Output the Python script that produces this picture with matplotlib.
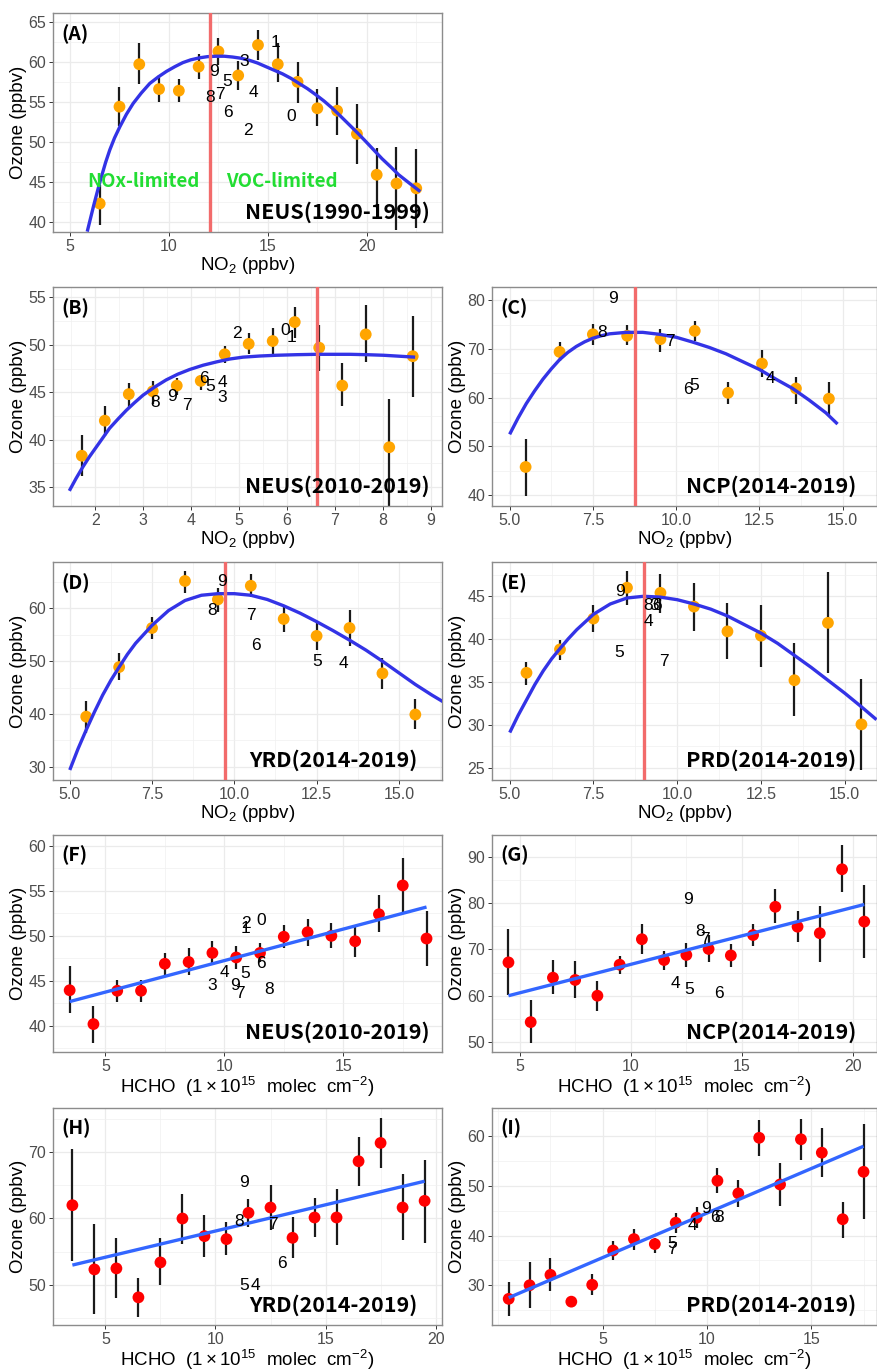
import matplotlib
matplotlib.use("Agg")
import matplotlib.pyplot as plt
from matplotlib.ticker import MultipleLocator, FormatStrFormatter

plt.rcParams['font.family'] = ['Liberation Sans', 'DejaVu Sans']
plt.rcParams['mathtext.fontset'] = 'custom'
plt.rcParams['mathtext.rm'] = 'Liberation Sans'
plt.rcParams['mathtext.it'] = 'Liberation Sans:italic'
plt.rcParams['mathtext.bf'] = 'Liberation Sans:bold'

# ---------------- data ----------------
# (A) NEUS 1990-1999, ozone vs NO2
a_x = [6.5, 7.5, 8.5, 9.5, 10.5, 11.5, 12.5, 13.5, 14.5, 15.5, 16.5, 17.5, 18.5, 19.5, 20.5, 21.5, 22.5]
a_y = [42.3, 54.4, 59.7, 56.6, 56.4, 59.4, 61.3, 58.3, 62.1, 59.7, 57.5, 54.2, 53.9, 51.0, 45.9, 44.8, 44.2]
a_lo = [39.6, 52.0, 57.2, 55.0, 55.0, 57.8, 59.6, 56.5, 60.2, 57.5, 54.9, 52.0, 50.9, 47.3, 41.8, 39.0, 39.2]
a_hi = [44.6, 56.8, 62.3, 58.3, 57.8, 61.0, 63.0, 60.1, 64.0, 62.4, 60.0, 56.6, 56.8, 54.7, 49.3, 49.4, 49.1]
a_fit_x = [5.87, 6.2, 6.51, 6.8, 7.01, 7.25, 7.52, 7.85, 8.19, 8.6, 9.03, 9.45, 9.87, 10.3, 10.7, 11.1,
           11.54, 11.95, 12.38, 12.8, 13.22, 13.64, 14.06, 14.48, 14.9, 15.32, 15.74, 16.16, 16.58,
           17.0, 17.42, 17.84, 18.26, 18.68, 19.09, 19.5, 19.93, 20.35, 20.77, 21.2, 21.61, 22.15, 22.7]
a_fit_y = [38.8, 42.1, 45.0, 47.45, 49.0, 50.5, 51.9, 53.45, 54.8, 56.1, 57.3, 58.1, 58.8, 59.4, 59.9, 60.25,
           60.5, 60.65, 60.7, 60.7, 60.6, 60.45, 60.2, 59.85, 59.4, 58.95, 58.5, 57.95, 57.3,
           56.65, 55.9, 55.1, 54.2, 53.2, 52.2, 51.2, 50.1, 49.0, 47.9, 46.9, 45.9, 44.85, 43.8]
a_yr_x = [16.16, 15.4, 13.99, 13.81, 14.26, 12.92, 13.0, 12.58, 12.08, 12.3]
a_yr_y = [53.2, 62.4, 51.4, 60.0, 56.2, 57.6, 53.7, 55.9, 55.6, 58.8]
a_ridge = 12.07

# (B) NEUS 2010-2019, ozone vs NO2
b_x = [1.72, 2.2, 2.7, 3.2, 3.7, 4.2, 4.7, 5.2, 5.7, 6.16, 6.67, 7.15, 7.64, 8.13, 8.62]
b_y = [38.3, 42.0, 44.8, 45.1, 45.7, 46.2, 49.0, 50.1, 50.4, 52.4, 49.7, 45.7, 51.1, 39.2, 48.8]
b_lo = [36.2, 40.4, 43.3, 43.8, 44.7, 45.2, 48.1, 49.0, 49.0, 50.7, 47.2, 43.5, 48.2, 33.0, 44.5]
b_hi = [40.5, 43.5, 46.0, 46.2, 46.5, 46.8, 49.9, 51.3, 51.8, 54.0, 52.1, 48.1, 54.2, 44.3, 53.0]
b_fit_x = [1.46, 1.6, 1.74, 1.88, 2.02, 2.16, 2.3, 2.48, 2.65, 2.82, 3.0, 3.24, 3.48, 3.72, 3.97,
           4.25, 4.53, 4.8, 5.08, 5.43, 5.78, 6.2, 6.62, 6.96, 7.31, 7.66, 8.01, 8.34, 8.67]
b_fit_y = [34.6, 35.9, 37.1, 38.2, 39.2, 40.2, 41.2, 42.2, 43.1, 43.9, 44.7, 45.55, 46.3, 46.9, 47.4,
           47.85, 48.2, 48.5, 48.7, 48.82, 48.9, 48.96, 49.0, 49.0, 49.0, 48.96, 48.9, 48.8, 48.7]
b_yr_x = [5.96, 6.09, 4.95, 4.65, 4.65, 4.39, 4.27, 3.92, 3.25, 3.6]
b_yr_y = [51.5, 50.8, 51.2, 44.4, 46.0, 45.6, 46.4, 43.6, 43.9, 44.5]
b_ridge = 6.62

# (C) NCP 2014-2019, ozone vs NO2
c_x = [5.48, 6.5, 7.5, 8.53, 9.53, 10.56, 11.56, 12.58, 13.6, 14.59]
c_y = [45.8, 69.4, 73.0, 72.7, 72.0, 73.7, 61.0, 67.0, 61.9, 59.8]
c_lo = [39.8, 67.6, 70.8, 70.8, 69.4, 71.6, 58.7, 64.3, 58.8, 56.4]
c_hi = [51.6, 71.5, 75.2, 74.9, 74.0, 75.8, 63.2, 69.7, 64.3, 63.2]
c_fit_x = [5.0, 5.25, 5.5, 5.75, 6.0, 6.25, 6.5, 6.75, 7.0, 7.25, 7.5, 7.75, 8.0, 8.5, 9.0, 9.5,
           10.0, 10.5, 11.0, 11.5, 12.0, 12.5, 13.0, 13.5, 14.0, 14.5, 14.85]
c_fit_y = [52.5, 55.8, 58.8, 61.4, 63.8, 65.9, 67.8, 69.3, 70.5, 71.45, 72.2, 72.7, 73.1, 73.4, 73.4, 73.0,
           72.4, 71.4, 70.3, 69.0, 67.4, 65.8, 63.8, 61.9, 59.5, 56.9, 54.6]
c_yr_x = [12.84, 10.53, 10.36, 9.81, 7.78, 8.11]
c_yr_y = [63.9, 62.6, 61.6, 71.5, 73.4, 80.3]
c_yr_lab = ['4', '5', '6', '7', '8', '9']
c_ridge = 8.76

# (D) YRD 2014-2019, ozone vs NO2
d_x = [5.5, 6.5, 7.5, 8.5, 9.5, 10.5, 11.5, 12.5, 13.5, 14.5, 15.5]
d_y = [39.5, 48.9, 56.3, 65.2, 61.7, 64.3, 58.0, 54.8, 56.3, 47.7, 39.9]
d_lo = [36.4, 46.5, 54.2, 63.0, 59.4, 62.2, 55.6, 52.2, 52.9, 44.8, 37.1]
d_hi = [42.4, 51.6, 58.4, 67.1, 63.8, 66.6, 60.3, 57.5, 59.8, 50.7, 42.8]
d_fit_x = [5.0, 5.25, 5.5, 5.75, 6.0, 6.25, 6.5, 6.75, 7.0, 7.5, 8.0, 8.5, 9.0, 9.5, 10.0, 10.5, 11.0,
           11.5, 12.0, 12.5, 13.0, 13.5, 14.0, 14.5, 15.0, 15.5, 16.0, 16.35]
d_fit_y = [29.4, 33.4, 37.0, 40.4, 43.6, 46.4, 48.9, 51.3, 53.4, 56.8, 59.6, 61.5, 62.5, 62.8, 62.8, 62.5,
           61.7, 60.5, 59.1, 57.5, 55.8, 54.0, 52.1, 50.0, 47.8, 45.6, 43.6, 42.3]
d_yr_x = [13.31, 12.52, 10.65, 10.49, 9.31, 9.64]
d_yr_y = [49.6, 49.9, 52.9, 58.7, 59.6, 65.2]
d_yr_lab = ['4', '5', '6', '7', '8', '9']
d_ridge = 9.72

# (E) PRD 2014-2019, ozone vs NO2
e_x = [5.5, 6.5, 7.5, 8.5, 9.5, 10.5, 11.5, 12.5, 13.5, 14.5, 15.5]
e_y = [36.07, 38.8, 42.4, 46.0, 45.4, 43.8, 40.9, 40.4, 35.2, 41.9, 30.05]
e_lo = [34.7, 37.6, 40.8, 43.95, 43.0, 41.0, 37.7, 36.8, 31.0, 36.1, 24.7]
e_hi = [37.3, 39.9, 43.95, 47.95, 47.6, 46.6, 44.2, 43.95, 39.5, 47.8, 35.4]
e_fit_x = [5.0, 5.25, 5.5, 5.75, 6.0, 6.25, 6.5, 6.75, 7.0, 7.5, 8.0, 8.5, 9.0, 9.5, 10.0, 10.5, 11.0,
           11.5, 12.0, 12.5, 13.0, 13.5, 14.0, 14.5, 15.0, 15.5, 15.95]
e_fit_y = [29.1, 31.1, 32.9, 34.7, 36.3, 37.7, 38.9, 40.05, 41.1, 42.9, 44.1, 44.8, 45.0, 44.9, 44.6, 44.1,
           43.5, 42.7, 41.7, 40.7, 39.5, 38.1, 36.7, 35.2, 33.7, 32.1, 30.6]
e_yr_x = [9.15, 8.28, 9.38, 9.61, 9.13, 8.28, 9.3]
e_yr_y = [42.0, 38.4, 43.9, 37.4, 43.9, 45.5, 43.9]
e_yr_lab = ['4', '5', '6', '7', '8', '9', '3']
e_ridge = 9.01

# (F) NEUS 2010-2019, ozone vs HCHO
f_x = [3.5, 4.5, 5.5, 6.5, 7.5, 8.5, 9.5, 10.5, 11.5, 12.5, 13.5, 14.5, 15.5, 16.5, 17.5, 18.5]
f_y = [43.96, 40.2, 43.9, 43.9, 46.9, 47.1, 48.1, 47.6, 48.1, 49.9, 50.4, 50.0, 49.4, 52.4, 55.6, 49.7]
f_lo = [41.4, 38.1, 42.6, 42.6, 45.6, 45.6, 46.9, 46.3, 47.1, 48.7, 48.9, 48.6, 47.7, 50.4, 52.7, 46.7]
f_hi = [46.7, 42.2, 45.1, 45.1, 48.1, 48.6, 49.4, 48.9, 49.2, 51.2, 51.9, 51.4, 51.1, 54.5, 58.6, 52.8]
f_fit_x = [3.5, 18.5]
f_fit_y = [42.7, 53.2]
f_yr_x = [11.56, 10.9, 10.9, 9.5, 10.02, 10.86, 11.52, 10.65, 11.89, 10.44]
f_yr_y = [51.7, 50.8, 51.4, 44.5, 45.98, 45.8, 46.9, 43.6, 44.0, 44.5]

# (G) NCP 2014-2019, ozone vs HCHO
g_x = [4.5, 5.5, 6.5, 7.5, 8.5, 9.5, 10.5, 11.5, 12.5, 13.5, 14.5, 15.5, 16.5, 17.5, 18.5, 19.5, 20.5]
g_y = [67.2, 54.3, 63.9, 63.4, 60.0, 66.7, 72.2, 67.7, 68.8, 70.1, 68.7, 73.1, 79.2, 74.9, 73.5, 87.3, 76.0]
g_lo = [60.2, 49.8, 60.4, 59.6, 56.8, 64.7, 69.0, 65.6, 66.3, 67.2, 66.2, 70.8, 75.6, 71.7, 67.2, 82.3, 68.1]
g_hi = [74.3, 59.0, 67.7, 67.5, 63.2, 68.6, 75.4, 69.7, 71.3, 73.1, 71.2, 75.5, 83.0, 78.3, 79.4, 92.5, 84.0]
g_fit_x = [4.5, 20.5]
g_fit_y = [60.0, 79.7]
g_yr_x = [12.02, 12.62, 13.95, 13.32, 13.13, 12.57]
g_yr_y = [62.6, 61.3, 60.5, 72.2, 73.9, 80.7]
g_yr_lab = ['4', '5', '6', '7', '8', '9']

# (H) YRD 2014-2019, ozone vs HCHO
h_x = [3.5, 4.5, 5.5, 6.5, 7.5, 8.5, 9.5, 10.5, 11.5, 12.5, 13.5, 14.5, 15.5, 16.5, 17.5, 18.5, 19.5]
h_y = [62.0, 52.35, 52.5, 48.15, 53.4, 60.0, 57.35, 56.9, 60.85, 61.65, 57.1, 60.15, 60.15, 68.6, 71.35, 61.65, 62.65]
h_lo = [53.6, 45.6, 48.0, 45.25, 50.0, 56.15, 54.15, 54.5, 58.75, 58.25, 54.1, 57.25, 56.0, 64.9, 67.6, 56.75, 56.35]
h_hi = [70.4, 59.15, 57.0, 51.0, 57.0, 63.75, 60.5, 59.4, 63.0, 65.0, 60.15, 63.1, 64.4, 72.25, 75.1, 66.65, 68.85]
h_fit_x = [3.5, 19.5]
h_fit_y = [53.0, 65.6]
h_yr_x = [11.82, 11.3, 13.0, 12.62, 11.08, 11.3]
h_yr_y = [49.9, 49.9, 53.25, 59.1, 59.6, 65.4]
h_yr_lab = ['4', '5', '6', '7', '8', '9']

# (I) PRD 2014-2019, ozone vs HCHO
i_x = [0.5, 1.5, 2.5, 3.5, 4.5, 5.5, 6.5, 7.5, 8.5, 9.5, 10.5, 11.5, 12.5, 13.5, 14.5, 15.5, 16.5, 17.5]
i_y = [27.27, 30.0, 32.1, 26.7, 30.1, 37.0, 39.3, 38.3, 42.6, 43.6, 51.05, 48.5, 59.7, 50.3, 59.4, 56.7, 43.3, 52.85]
i_lo = [23.9, 25.5, 28.8, 25.8, 28.1, 35.0, 37.2, 36.5, 40.5, 41.5, 48.5, 45.8, 56.05, 46.05, 55.3, 51.85, 39.5, 43.4]
i_hi = [30.7, 34.6, 35.5, 27.8, 32.3, 38.9, 41.3, 39.6, 44.65, 45.8, 53.65, 51.3, 63.2, 54.65, 63.5, 61.7, 46.8, 62.4]
i_fit_x = [0.5, 17.5]
i_fit_y = [27.5, 58.0]
i_yr_x = [9.3, 8.31, 10.38, 8.31, 10.59, 9.94]
i_yr_y = [42.1, 38.5, 43.7, 37.2, 43.7, 45.4]
i_yr_lab = ['4', '5', '6', '7', '8', '9']

year_digits = ['0', '1', '2', '3', '4', '5', '6', '7', '8', '9']

# ---------------- drawing ----------------
W, H = 877, 1372
fig = plt.figure(figsize=(W / 100, H / 100), dpi=100)
fig.patch.set_facecolor('white')

NO2_LAB = 'NO$_2$ (ppbv)'
HCHO_LAB = 'HCHO  ($1\\times10^{15}$  molec  cm$^{-2}$)'
TAGFONT = ['Noto Sans CJK JP', 'DejaVu Sans']


def rect(left, top, right, bottom):
    return [left / W, 1 - bottom / H, (right - left) / W, (bottom - top) / H]


def panel(r, x, y, lo, hi, pcol, fx, fy, fcol, yx, yy, ylab, xlim, ylim, xmaj, ymaj,
          tag, region, region_x, xlab, ridge=None, xfmt=None):
    ax = fig.add_axes(r)
    ax.set_xlim(*xlim)
    ax.set_ylim(*ylim)
    ax.xaxis.set_major_locator(MultipleLocator(xmaj))
    ax.xaxis.set_minor_locator(MultipleLocator(xmaj / 2))
    ax.yaxis.set_major_locator(MultipleLocator(ymaj))
    ax.yaxis.set_minor_locator(MultipleLocator(ymaj / 2))
    if xfmt:
        ax.xaxis.set_major_formatter(FormatStrFormatter(xfmt))
    ax.grid(which='major', color='#EBEBEB', lw=0.9)
    ax.grid(which='minor', color='#F0F0F0', lw=0.5)
    ax.set_axisbelow(True)
    ax.tick_params(which='major', length=3, width=0.7, color='#333333',
                   labelsize=11.5, labelcolor='#4D4D4D', pad=2)
    ax.tick_params(which='minor', length=0)
    for s in ax.spines.values():
        s.set_color('#8C8C8C')
        s.set_linewidth(1.0)

    ax.vlines(x, lo, hi, color='#1A1A1A', lw=1.6, zorder=2)
    ax.scatter(x, y, s=72, color=pcol, edgecolors='none', zorder=3)
    ax.plot(fx, fy, color=fcol, lw=2.4, solid_capstyle='butt', solid_joinstyle='round', zorder=4)
    if ridge is not None:
        ax.axvline(ridge, color='#F26B6B', lw=2.4, zorder=5)
    for tx, ty, t in zip(yx, yy, ylab):
        ax.text(tx, ty, t, fontsize=12.5, ha='center', va='center', color='black', zorder=6)

    ax.text(0.022, 0.905, tag, transform=ax.transAxes, fontsize=14, fontweight='bold',
            family=TAGFONT, ha='left', va='center', zorder=7)
    ax.text(region_x, 0.09, region, transform=ax.transAxes, fontsize=15.5, fontweight='bold',
            family=TAGFONT, ha='right', va='center', zorder=7)
    ax.set_xlabel(xlab, fontsize=13.5, labelpad=1)
    ax.set_ylabel('Ozone (ppbv)', fontsize=13.5, labelpad=1)
    return ax


L0, L1 = 53, 442
R0, R1 = 492, 876.5
rows = [(287, 506), (562, 780), (835, 1052), (1108, 1325)]

axA = panel(rect(L0, 13, L1, 232), a_x, a_y, a_lo, a_hi, '#FFA500', a_fit_x, a_fit_y, '#3333E6',
            a_yr_x, a_yr_y, year_digits, (4.14, 23.8), (38.75, 66.1), 5, 5,
            '(A)', 'NEUS(1990-1999)', 0.969, NO2_LAB, ridge=a_ridge)
axA.text(8.72, 45.1, 'NOx-limited', color='#22DD33', fontsize=13.5, fontweight='bold',
         family=TAGFONT, ha='center', va='center', zorder=7)
axA.text(15.69, 45.1, 'VOC-limited', color='#22DD33', fontsize=13.5, fontweight='bold',
         family=TAGFONT, ha='center', va='center', zorder=7)

panel(rect(L0, rows[0][0], L1, rows[0][1]), b_x, b_y, b_lo, b_hi, '#FFA500', b_fit_x, b_fit_y, '#3333E6',
      b_yr_x, b_yr_y, year_digits, (1.12, 9.23), (33.0, 56.1), 1, 5,
      '(B)', 'NEUS(2010-2019)', 0.969, NO2_LAB, ridge=b_ridge)
panel(rect(R0, rows[0][0], R1, rows[0][1]), c_x, c_y, c_lo, c_hi, '#FFA500', c_fit_x, c_fit_y, '#3333E6',
      c_yr_x, c_yr_y, c_yr_lab, (4.47, 16.02), (37.8, 82.7), 2.5, 10,
      '(C)', 'NCP(2014-2019)', 0.948, NO2_LAB, ridge=c_ridge, xfmt='%.1f')
panel(rect(L0, rows[1][0], L1, rows[1][1]), d_x, d_y, d_lo, d_hi, '#FFA500', d_fit_x, d_fit_y, '#3333E6',
      d_yr_x, d_yr_y, d_yr_lab, (4.49, 16.31), (27.5, 68.8), 2.5, 10,
      '(D)', 'YRD(2014-2019)', 0.936, NO2_LAB, ridge=d_ridge, xfmt='%.1f')
panel(rect(R0, rows[1][0], R1, rows[1][1]), e_x, e_y, e_lo, e_hi, '#FFA500', e_fit_x, e_fit_y, '#3333E6',
      e_yr_x, e_yr_y, e_yr_lab, (4.47, 15.95), (23.56, 49.0), 2.5, 5,
      '(E)', 'PRD(2014-2019)', 0.948, NO2_LAB, ridge=e_ridge, xfmt='%.1f')
panel(rect(L0, rows[2][0], L1, rows[2][1]), f_x, f_y, f_lo, f_hi, '#FF0000', f_fit_x, f_fit_y, '#3366FF',
      f_yr_x, f_yr_y, year_digits, (2.8, 19.15), (37.1, 61.2), 5, 5,
      '(F)', 'NEUS(2010-2019)', 0.969, HCHO_LAB)
panel(rect(R0, rows[2][0], R1, rows[2][1]), g_x, g_y, g_lo, g_hi, '#FF0000', g_fit_x, g_fit_y, '#3366FF',
      g_yr_x, g_yr_y, g_yr_lab, (3.76, 21.05), (47.85, 94.7), 5, 10,
      '(G)', 'NCP(2014-2019)', 0.948, HCHO_LAB)
panel(rect(L0, rows[3][0], L1, rows[3][1]), h_x, h_y, h_lo, h_hi, '#FF0000', h_fit_x, h_fit_y, '#3366FF',
      h_yr_x, h_yr_y, h_yr_lab, (2.62, 20.29), (44.0, 76.6), 5, 10,
      '(H)', 'YRD(2014-2019)', 0.936, HCHO_LAB)
axI = panel(rect(R0, rows[3][0], R1, rows[3][1]), i_x, i_y, i_lo, i_hi, '#FF0000', i_fit_x, i_fit_y, '#3366FF',
            i_yr_x, i_yr_y, i_yr_lab, (-0.3, 18.12), (22.0, 65.7), 5, 10,
            '(I)', 'PRD(2014-2019)', 0.948, HCHO_LAB)
axI.set_xticks([5, 10, 15])

fig.savefig('out.png', dpi=100, facecolor='white')
